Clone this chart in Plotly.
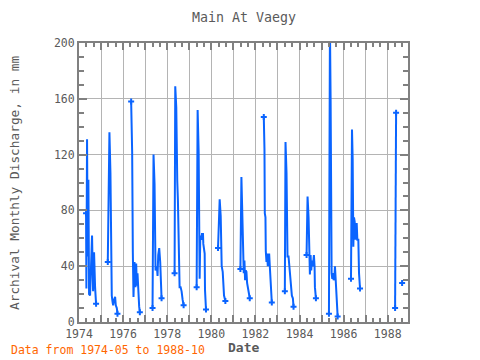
import plotly.graph_objects as go

# Decimal-year positions and discharge (mm); None = gap
dates = [
    1974.320, 1974.335, 1974.365, 1974.396, 1974.426, 1974.456, 1974.502, 1974.547, 1974.592, 1974.638, 1974.683, 1974.729, 1974.774, None,
    1975.305, 1975.335, 1975.380, 1975.426, 1975.456, 1975.486, 1975.517, 1975.547, 1975.592, 1975.638, 1975.668, 1975.714, 1975.744, None,
    1976.365, 1976.411, 1976.441, 1976.471, 1976.517, 1976.562, 1976.593, 1976.623, 1976.653, 1976.699, 1976.729, 1976.759, None,
    1977.335, 1977.350, 1977.380, 1977.426, 1977.441, 1977.471, 1977.532, 1977.562, 1977.593, 1977.638, 1977.683, 1977.714, 1977.744, None,
    1978.335, 1978.350, 1978.365, 1978.411, 1978.426, 1978.456, 1978.486, 1978.517, 1978.562, 1978.608, 1978.653, 1978.699, 1978.744, None,
    1979.335, 1979.350, 1979.380, 1979.426, 1979.441, 1979.471, 1979.502, 1979.547, 1979.577, 1979.623, 1979.638, 1979.668, 1979.699, 1979.714, 1979.759, None,
    1980.305, 1980.335, 1980.380, 1980.426, 1980.441, 1980.471, 1980.517, 1980.547, 1980.577, 1980.638, None,
    1981.320, 1981.335, 1981.365, 1981.396, 1981.441, 1981.471, 1981.502, 1981.532, 1981.562, 1981.593, 1981.623, 1981.668, 1981.699, 1981.744, None,
    1982.380, 1982.411, 1982.426, 1982.456, 1982.471, 1982.502, 1982.532, 1982.562, 1982.593, 1982.623, 1982.653, 1982.699, 1982.744, None,
    1983.335, 1983.350, 1983.365, 1983.411, 1983.426, 1983.456, 1983.502, 1983.532, 1983.562, 1983.608, 1983.653, 1983.699, 1983.729, None,
    1984.320, 1984.335, 1984.365, 1984.411, 1984.441, 1984.471, 1984.502, 1984.532, 1984.562, 1984.608, 1984.653, 1984.683, 1984.699, 1984.744, None,
    1985.335, 1985.350, 1985.380, 1985.411, 1985.426, 1985.456, 1985.486, 1985.517, 1985.547, 1985.577, 1985.608, 1985.638, 1985.683, 1985.729, None,
    1986.335, 1986.350, 1986.380, 1986.411, 1986.441, 1986.471, 1986.502, 1986.532, 1986.562, 1986.593, 1986.623, 1986.668, 1986.699, 1986.744, None,
    1988.335, 1988.350, 1988.380, None,
    1988.653,
]
discharge = [
    78, 24, 131, 47, 102, 20, 19, 47, 62, 22, 50, 25, 13, None,
    43, 89, 136, 107, 50, 19, 15, 12, 16, 18, 12, 10, 6, None,
    158, 122, 50, 18, 43, 25, 42, 26, 35, 17, 11, 7, None,
    10, 66, 120, 99, 59, 37, 40, 33, 48, 53, 43, 25, 17, None,
    35, 101, 169, 154, 122, 101, 87, 44, 25, 25, 22, 16, 12, None,
    25, 88, 152, 122, 61, 31, 62, 59, 63, 63, 56, 49, 49, 23, 9, None,
    53, 70, 88, 76, 53, 40, 36, 29, 19, 15, None,
    38, 70, 104, 84, 47, 35, 44, 30, 37, 36, 28, 23, 19, 17, None,
    147, 124, 78, 75, 51, 43, 49, 40, 46, 49, 40, 23, 14, None,
    22, 75, 129, 107, 67, 47, 47, 40, 34, 26, 19, 17, 11, None,
    48, 69, 90, 75, 48, 34, 48, 37, 44, 40, 48, 40, 25, 17, None,
    6, 103, 212, 159, 78, 35, 31, 35, 30, 31, 40, 30, 12, 4, None,
    31, 85, 138, 117, 54, 75, 72, 59, 71, 71, 59, 59, 35, 24, None,
    10, 80, 150, None,
    28,
]

year_ticks = list(range(1974, 1989))
year_labels = [str(y) if (y - 1974) % 2 == 0 else "" for y in year_ticks]

title_text = "Main At Vaegy"
note_text = "Data from 1974-05 to 1988-10"

# endpoints of each continuous run get a marker
end_x, end_y = [], []
n = len(dates)
for i in range(n):
    if dates[i] is None:
        continue
    prev_gap = i == 0 or dates[i - 1] is None
    next_gap = i == n - 1 or dates[i + 1] is None
    if prev_gap or next_gap:
        end_x.append(dates[i])
        end_y.append(discharge[i])

blue = "#0a64ff"
gray = "#808080"
txt = "#5a5a5a"
font_family = "DejaVu Sans Mono"

# page body has an 8px margin: figure occupies 472x352 of the 480x360 window
L, T, PW, PH = 71, 35, 329, 279

fig = go.Figure()
fig.add_trace(go.Scatter(x=dates, y=discharge, mode="lines",
                         line=dict(color=blue, width=2), connectgaps=False,
                         showlegend=False, hoverinfo="skip"))
fig.add_trace(go.Scatter(x=end_x, y=end_y, mode="markers",
                         marker=dict(symbol="cross", size=5, color=blue),
                         showlegend=False, hoverinfo="skip"))

axis_common = dict(
    showline=True, linecolor=gray, linewidth=2, mirror="ticks",
    ticks="inside", tickcolor=gray, tickwidth=2,
    showgrid=True, gridcolor="#b4b4b4", gridwidth=1, zeroline=False,
    tickfont=dict(family=font_family, size=11.5, color=txt),
)

def px_y(py):
    return (T + PH - (py - 8)) / PH

def px_x(px):
    return ((px - 8) - L) / PW

fig.update_layout(
    width=472, height=352,
    margin=dict(l=L, r=472 - L - PW, t=T, b=352 - T - PH),
    paper_bgcolor="white", plot_bgcolor="white",
    xaxis=dict(range=[1974.0, 1988.92], tickmode="array",
               tickvals=year_ticks, ticktext=year_labels, ticklen=7,
               minor=dict(dtick=1/3, tick0=1974, ticks="inside", ticklen=4,
                          tickcolor=gray, tickwidth=2, showgrid=False),
               **axis_common),
    yaxis=dict(range=[0, 200], dtick=40, tick0=0, ticklen=8,
               minor=dict(dtick=10, tick0=0, ticks="inside", ticklen=5,
                          tickcolor=gray, tickwidth=2, showgrid=False),
               **axis_common),
    annotations=[
        dict(text=title_text, xref="paper", yref="paper", x=0.5, y=px_y(17),
             xanchor="center", yanchor="middle", showarrow=False,
             font=dict(family=font_family, size=13.3, color=txt)),
        dict(text="<b>Date</b>", xref="paper", yref="paper", x=0.5, y=px_y(347),
             xanchor="center", yanchor="middle", showarrow=False,
             font=dict(family=font_family, size=13, color=txt)),
        dict(text="Archival Monthly Discharge, in mm", xref="paper", yref="paper",
             x=px_x(14), y=px_y(183), textangle=-90,
             xanchor="center", yanchor="middle", showarrow=False,
             font=dict(family=font_family, size=12.8, color=txt)),
        dict(text=note_text, xref="paper", yref="paper",
             x=px_x(8.5), y=px_y(350),
             xanchor="left", yanchor="middle", showarrow=False,
             font=dict(family=font_family, size=11.5, color="#ff6600")),
    ],
)

fig.write_html("out.html")
